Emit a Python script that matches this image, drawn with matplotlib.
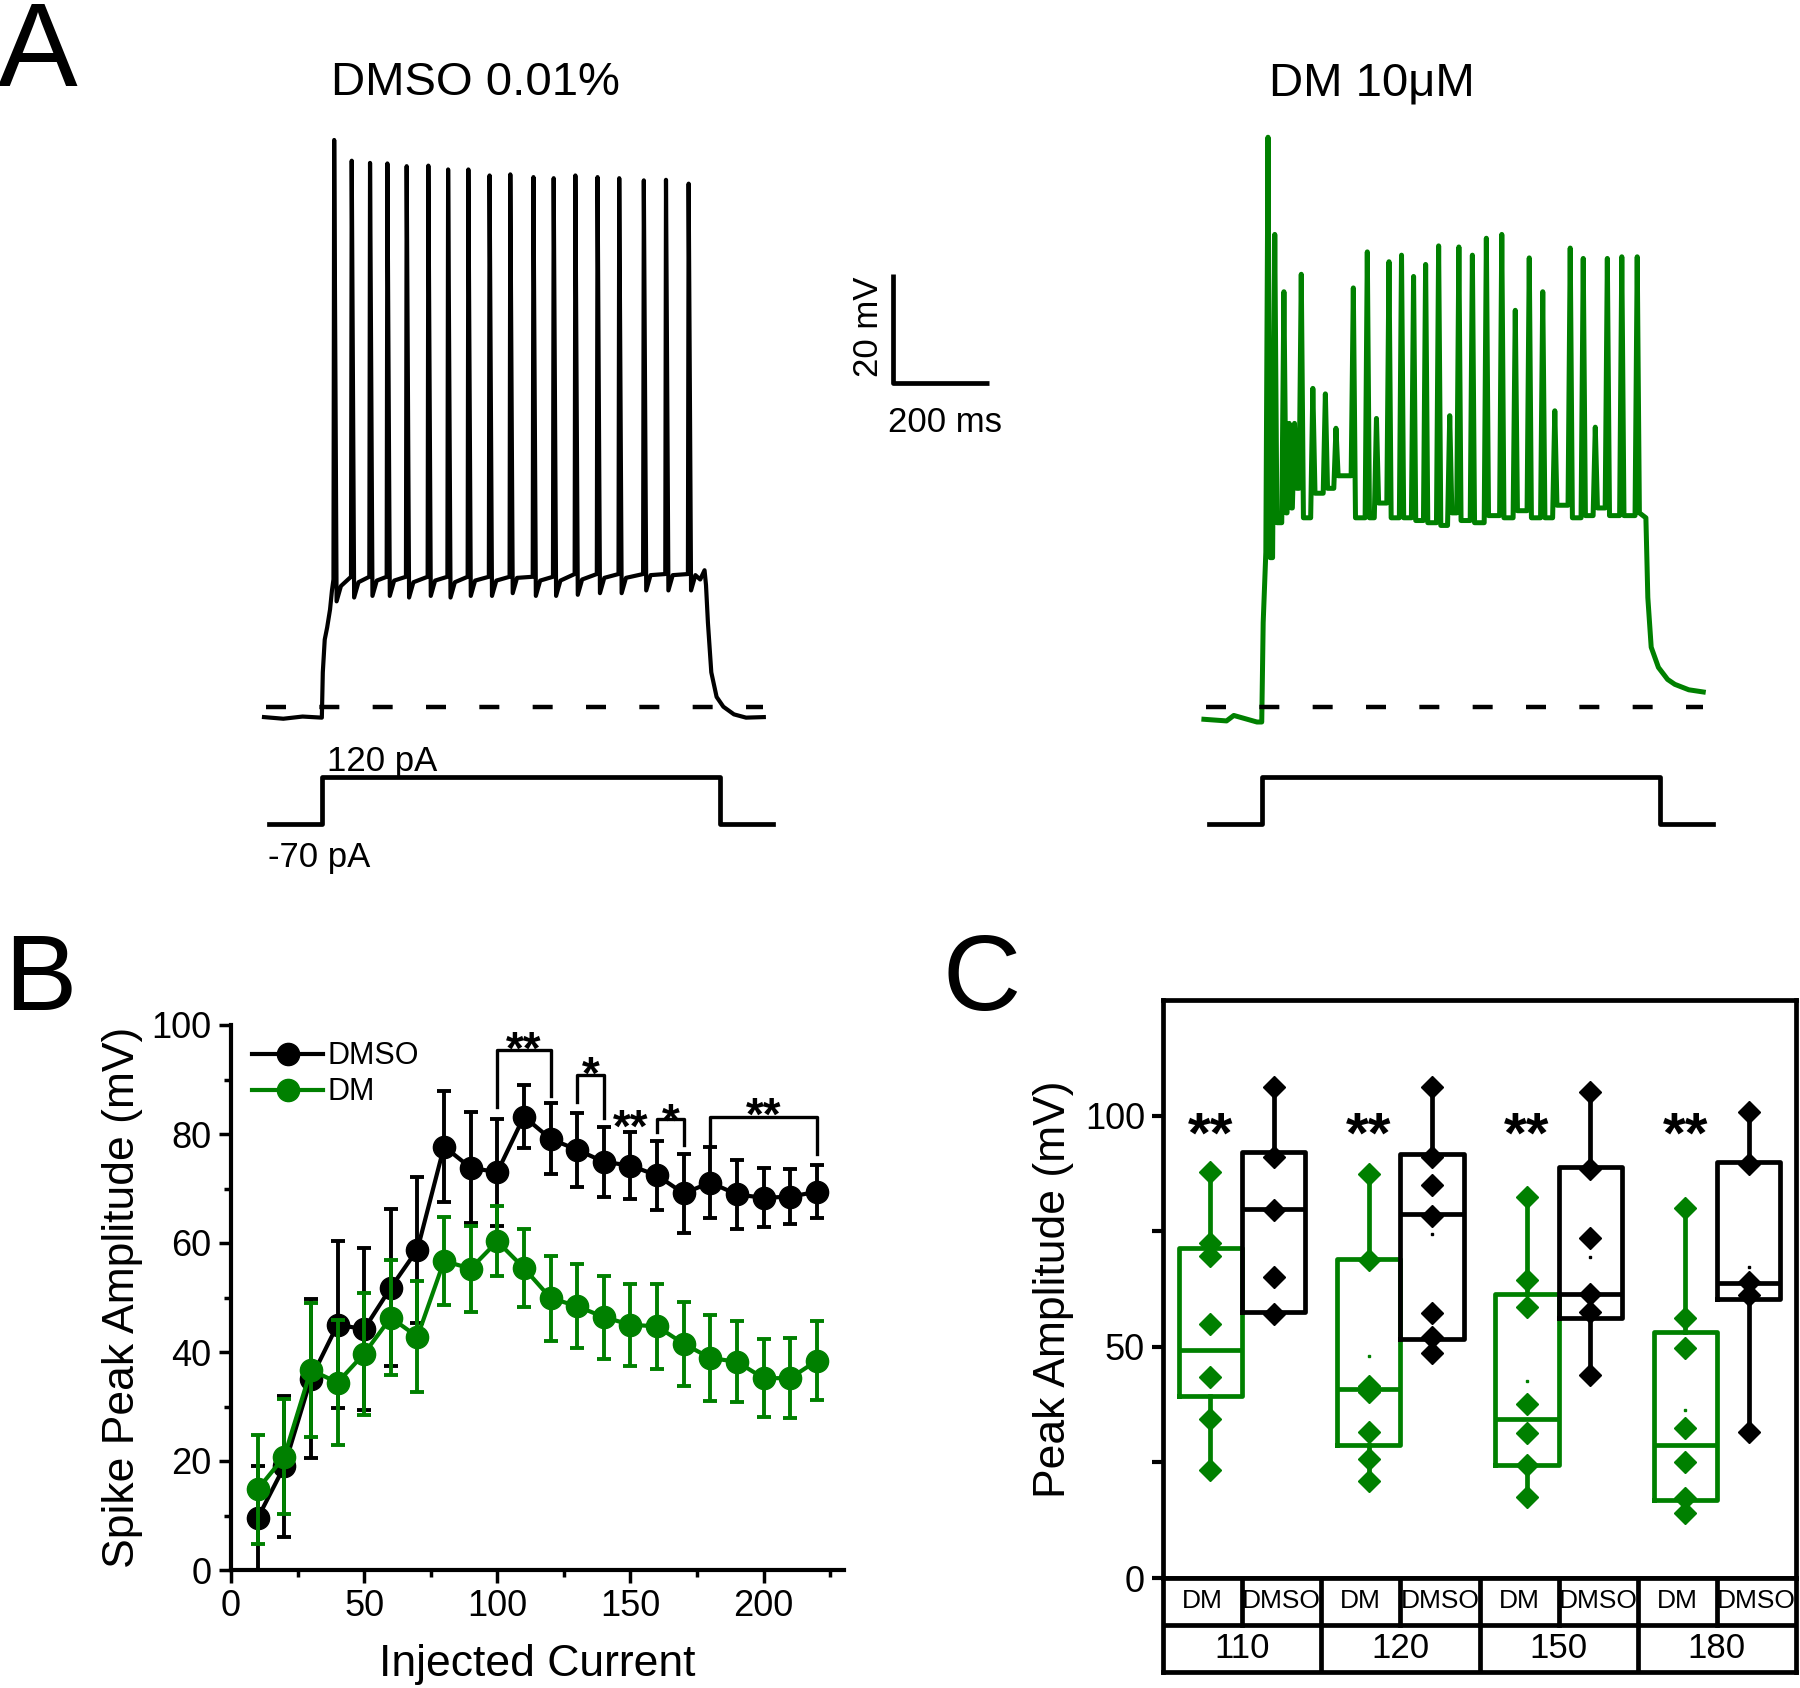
import matplotlib
matplotlib.use("Agg")
import matplotlib.pyplot as plt

plt.rcParams["font.family"] = ["Liberation Sans", "DejaVu Sans"]

GREEN = "#008000"
W, H = 1800, 1688

# ---- Panel A: DMSO trace (ms, mV) ----
dmso_onset_t = [0, 40, 80, 120, 122, 126, 131, 137, 141]
dmso_onset_v = [-70.2, -70.5, -70.1, -70.3, -62.0, -56.0, -53.8, -50.5, -47.0]
dmso_spike_t = [145.6, 182, 220, 256, 296, 341, 382, 424, 468, 511, 559, 601,
                646, 692, 737, 788, 834, 881]
dmso_spike_peak = [35.5, 31.7, 31.3, 31.2, 30.7, 30.8, 30.1, 30.1, 29.0, 29.2,
                   28.7, 28.5, 29.0, 28.7, 28.5, 28.1, 28.2, 27.5]
dmso_threshold = [-45.0, -44.5, -44.5, -44.5, -44.5, -44.5, -44.5, -44.5, -44.5,
                  -44.5, -44.5, -44.5, -44.0, -44.0, -44.0, -44.0, -44.0, -44.0]
dmso_ahp = [-49.0, -48.3, -48.0, -48.0, -48.3, -48.0, -48.3, -48.0, -48.0,
            -47.5, -48.0, -48.0, -47.8, -47.5, -47.5, -47.0, -47.0, -47.0]
dmso_offset_t = [905, 914, 917, 921, 928, 939, 953, 975, 1000, 1037]
dmso_offset_v = [-45.0, -43.3, -46.0, -52.9, -62.0, -66.5, -68.3, -69.7, -70.3, -70.2]

# ---- Panel A: DM trace (ms, mV) ----
dm_onset_t = [0, 47, 62, 110, 120, 123]
dm_onset_v = [-70.6, -70.9, -69.9, -71.1, -71.1, -52.9]
dm_spike_t = [133, 147, 166, 177, 188, 202, 226, 252, 274, 310, 339, 358, 384,
              410, 435, 460, 487, 510, 529, 557, 586, 618, 646, 675, 703, 728,
              760, 787, 812, 837, 867, 899]
dm_spike_peak = [36.0, 18.2, 7.7, -16.4, -16.4, 10.9, -10.0, -11.0, -17.3, 8.4,
                 15.0, -15.5, 13.2, 14.4, 10.5, 12.7, 16.1, -15.0, 15.9, 14.4,
                 17.5, 18.2, 4.3, 13.9, 7.7, -14.1, 15.7, 13.8, -17.1, 13.8,
                 14.1, 14.1]
dm_floor = [-40.0, -41.0, -34.6, -32.8, -31.9, -28.3, -33.7, -29.2, -28.3, -26.0,
            -33.7, -33.7, -31.0, -33.7, -33.7, -34.2, -34.6, -35.1, -32.8, -34.2,
            -34.6, -33.3, -33.7, -32.4, -33.7, -33.7, -31.4, -33.7, -33.3, -31.9,
            -33.3, -33.3, -32.8]
dm_offset_t = [917, 921, 928, 943, 962, 977, 1006, 1036]
dm_offset_v = [-33.7, -48.3, -57.4, -61.1, -63.3, -64.2, -65.2, -65.6]

rest_v = -68.4
step_t = [10, 120, 120, 946, 946, 1056]
step_pA = [-70, -70, 120, 120, -70, -70]

# ---- Panel B ----
current = [10, 20, 30, 40, 50, 60, 70, 80, 90, 100, 110, 120, 130, 140, 150,
           160, 170, 180, 190, 200, 210, 220]
dmso_amp = [9.5, 19.0, 35.1, 45.0, 44.2, 51.8, 58.8, 77.7, 73.8, 73.0, 83.2, 79.1,
            77.1, 74.9, 74.2, 72.4, 69.1, 71.1, 68.9, 68.3, 68.5, 69.4]
dmso_err = [9.5, 12.9, 14.6, 15.3, 14.9, 14.4, 13.4, 10.1, 10.2, 9.8, 5.8, 6.5,
            6.8, 6.4, 6.2, 6.3, 7.2, 6.5, 6.3, 5.4, 5.0, 4.9]
dm_amp = [14.8, 20.8, 36.7, 34.4, 39.7, 46.3, 42.8, 56.7, 55.3, 60.3, 55.4, 49.9,
          48.4, 46.4, 45.0, 44.7, 41.5, 38.9, 38.2, 35.2, 35.2, 38.4]
dm_err = [10.0, 10.6, 12.3, 11.5, 11.2, 10.6, 10.2, 8.0, 7.9, 6.4, 7.1, 7.8,
          7.7, 7.6, 7.5, 7.8, 7.7, 7.8, 7.4, 7.1, 7.3, 7.2]
sig_left = [100, 130, 160, 180]
sig_right = [120, 140, 170, 220]
sig_top = [95.5, 90.8, 82.7, 83.1]
sig_left_end = [84.9, 85.9, 80.4, 77.9]
sig_right_end = [87.0, 83.0, 77.9, 76.4]
sig_label = ["**", "*", "*", "**"]
sig_label_y = [97.8, 93.1, 84.6, 85.7]
extra_sig_x, extra_sig_y = 150, 83.4

# ---- Panel C ----
groups = ["110", "120", "150", "180"]
dm_q1 = [39.3, 28.8, 24.5, 16.8]
dm_med = [49.3, 40.9, 34.4, 28.8]
dm_q3 = [71.3, 68.9, 61.5, 53.1]
dm_lo = [23.4, 21.0, 17.5, 14.0]
dm_hi = [87.9, 87.4, 82.4, 80.1]
dm_mean = [55.1, 48.1, 42.5, 36.4]
dm_points = [[87.9, 72.4, 69.6, 54.9, 43.5, 34.3, 23.4],
             [87.4, 68.7, 41.6, 40.2, 31.6, 25.7, 21.0],
             [82.4, 64.5, 58.7, 37.6, 31.3, 24.5, 17.5],
             [80.1, 56.3, 49.7, 32.4, 25.0, 17.3, 14.0]]
dmso_q1 = [57.5, 51.7, 56.3, 60.3]
dmso_med = [79.9, 78.7, 61.5, 63.7]
dmso_q3 = [92.1, 91.6, 88.8, 89.9]
dmso_lo = [57.0, 48.6, 43.9, 31.6]
dmso_hi = [106.1, 106.1, 105.1, 100.7]
dmso_mean = [79.8, 74.3, 69.4, 67.3]
dmso_points = [[106.1, 91.1, 79.6, 65.1, 57.0],
               [106.1, 91.1, 85.0, 78.3, 57.3, 52.1, 48.6],
               [105.1, 88.5, 73.6, 61.5, 57.5, 43.9],
               [100.7, 89.5, 64.0, 61.2, 31.6]]


def px_axes(fig, x0, y0, x1, y1):
    return fig.add_axes([x0 / W, 1 - y1 / H, (x1 - x0) / W, (y1 - y0) / H])


def ftext(fig, x, y, s, **kw):
    fig.text(x / W, 1 - y / H, s, **kw)


def spike_vertices(times, peaks, before, after, rise, fall, rec_dt=None, rec_dv=0.0):
    """Polyline through each spike: foot, peak, trough (and optional recovery knee)."""
    t, v = [], []
    for ti, pk, b, a in zip(times, peaks, before, after):
        t += [ti - rise, ti, ti + fall]
        v += [b, pk, a]
        if rec_dt is not None:
            t.append(ti + rec_dt)
            v.append(a + rec_dv)
    return t, v


def star(ax, x, y, s, size, weight="normal"):
    # y is the centre of the asterisk glyph
    ax.annotate(s, xy=(x, y), xytext=(0, -0.58 * size), textcoords="offset points",
                ha="center", va="baseline", fontsize=size, fontweight=weight)


fig = plt.figure(figsize=(18, 16.88), dpi=100)

# ================= Panel A =================
ax_v = px_axes(fig, 0, 100, 1800, 780)
ax_v.set_xlim((0 - 264) / 0.482, (1800 - 264) / 0.482)
ax_v.set_ylim(-70 - 64 / 5.46, -70 + 616 / 5.46)
ax_v.axis("off")
ax_i = px_axes(fig, 0, 740, 1800, 880)
ax_i.set_xlim(ax_v.get_xlim())
ax_i.set_ylim(-70 - 56 * 4.04, 120 + 37 * 4.04)
ax_i.axis("off")

dm_shift = 1950  # horizontal place of the DM trace

st, sv = spike_vertices(dmso_spike_t, dmso_spike_peak, dmso_threshold, dmso_ahp,
                        1.5, 5, rec_dt=14, rec_dv=2.8)
ax_v.plot(dmso_onset_t + st + dmso_offset_t, dmso_onset_v + sv + dmso_offset_v,
          color="black", lw=3, solid_joinstyle="round")
st, sv = spike_vertices(dm_spike_t, dm_spike_peak, dm_floor[:-1], dm_floor[1:], 4.5, 4.5)
dm_t = dm_onset_t + st + dm_offset_t
ax_v.plot([t + dm_shift for t in dm_t], dm_onset_v + sv + dm_offset_v,
          color=GREEN, lw=3.6, solid_joinstyle="round")

for shift in (0, dm_shift):
    ax_v.plot([shift + 4, shift + 1035], [rest_v, rest_v], color="black", lw=3.2,
              dashes=(4.5, 7.5))
    ax_i.plot([t + shift for t in step_t], step_pA, color="black", lw=3.4)

# scale bar
sb_t, sb_v = 1305, -9.1
ax_v.plot([sb_t, sb_t, sb_t + 200], [sb_v + 20, sb_v, sb_v], color="black", lw=3.4,
          solid_capstyle="butt")
ftext(fig, 868, 327, "20 mV", rotation=90, ha="center", va="center", fontsize=25)
ftext(fig, 945, 422, "200 ms", ha="center", va="center", fontsize=25)
ftext(fig, 327, 771, "120 pA", ha="left", va="baseline", fontsize=25)
ftext(fig, 268, 867, "-70 pA", ha="left", va="baseline", fontsize=25)

ftext(fig, 475, 95, "DMSO 0.01%", ha="center", va="baseline", fontsize=34)
ftext(fig, 1372, 95, "DM 10μM", ha="center", va="baseline", fontsize=34)

ftext(fig, -2, 86, "A", ha="left", va="baseline", fontsize=86)
ftext(fig, 4, 1010, "B", ha="left", va="baseline", fontsize=78)
ftext(fig, 942, 1010, "C", ha="left", va="baseline", fontsize=78)

# ================= Panel B =================
ax_b = px_axes(fig, 231, 1025, 843.5, 1570)
ax_b.errorbar(current, dmso_amp, yerr=dmso_err, fmt="none", ecolor="black",
              elinewidth=2.8, capsize=5, capthick=2.8)
hb, = ax_b.plot(current, dmso_amp, "-o", color="black", lw=3, ms=16, label="DMSO")
ax_b.errorbar(current, dm_amp, yerr=dm_err, fmt="none", ecolor=GREEN,
              elinewidth=2.8, capsize=5, capthick=2.8)
hg, = ax_b.plot(current, dm_amp, "-o", color=GREEN, lw=3, ms=16, label="DM")

for xl, xr, top, le, re in zip(sig_left, sig_right, sig_top, sig_left_end, sig_right_end):
    ax_b.plot([xl, xl, xr, xr], [le, top, top, re], color="black", lw=2.4)
for xl, xr, s, y in zip(sig_left, sig_right, sig_label, sig_label_y):
    star(ax_b, (xl + xr) / 2, y, s, 33, weight="bold")
star(ax_b, extra_sig_x, extra_sig_y, "**", 33, weight="bold")

ax_b.set_xlim(0, 230)
ax_b.set_ylim(0, 100)
ax_b.set_xticks([0, 50, 100, 150, 200])
ax_b.set_xticks([25, 75, 125, 175, 225], minor=True)
ax_b.set_yticks([0, 20, 40, 60, 80, 100])
ax_b.set_yticks([10, 30, 50, 70, 90], minor=True)
for side in ("top", "right"):
    ax_b.spines[side].set_visible(False)
for side in ("left", "bottom"):
    ax_b.spines[side].set_linewidth(3)
ax_b.tick_params(which="major", direction="out", length=9, width=2.5, labelsize=26, pad=5)
ax_b.tick_params(which="minor", direction="out", length=5, width=2.5)
ax_b.set_xlabel("Injected Current", fontsize=32, labelpad=14)
ax_b.set_ylabel("Spike Peak Amplitude (mV)", fontsize=32, labelpad=6)
ax_b.legend(handles=[hb, hg], loc="upper left", bbox_to_anchor=(0.035, 0.97),
            frameon=False, fontsize=22, handlelength=2.3, handletextpad=0.15,
            labelspacing=0.2, borderpad=0, borderaxespad=0)

# ================= Panel C =================
ax_c = px_axes(fig, 1163, 1000, 1796, 1578)
dm_pos = [0.6, 2.6, 4.6, 6.6]
dmso_pos = [1.4, 3.4, 5.4, 7.4]
for pos, q1, med, q3, lo, hi, mean, pts, col in (
        (dm_pos, dm_q1, dm_med, dm_q3, dm_lo, dm_hi, dm_mean, dm_points, GREEN),
        (dmso_pos, dmso_q1, dmso_med, dmso_q3, dmso_lo, dmso_hi, dmso_mean,
         dmso_points, "black")):
    stats = [dict(med=m, q1=a, q3=b, whislo=l, whishi=h, fliers=[])
             for a, m, b, l, h in zip(q1, med, q3, lo, hi)]
    lp = dict(color=col, linewidth=3.4)
    ax_c.bxp(stats, positions=pos, widths=0.8, showcaps=False, showfliers=False,
             boxprops=lp, whiskerprops=lp, medianprops=lp)
    for p, vals, mu in zip(pos, pts, mean):
        ax_c.plot([p] * len(vals), vals, "D", color=col, ms=11.5, zorder=4)
        ax_c.plot([p], [mu], "s", color=col, ms=2.0, zorder=4)
for p in dm_pos:
    star(ax_c, p, 99.3, "**", 42, weight="bold")

ax_c.set_xlim(0, 8)
ax_c.set_ylim(0, 125)
ax_c.set_xticks([])
ax_c.set_yticks([0, 50, 100])
ax_c.set_yticks([25, 75], minor=True)
for sp in ax_c.spines.values():
    sp.set_linewidth(3.4)
ax_c.tick_params(which="both", direction="out", length=8, width=3)
ax_c.tick_params(which="major", labelsize=26, pad=5)
ax_c.set_ylabel("Peak Amplitude (mV)", fontsize=32, labelpad=8)

ax_t = px_axes(fig, 1163, 1578, 1796, 1672)
ax_t.set_xlim(0, 8)
ax_t.set_ylim(0, 2)
ax_t.set_xticks([])
ax_t.set_yticks([])
for sp in ax_t.spines.values():
    sp.set_linewidth(3.4)
ax_t.axhline(1, color="black", lw=3.4)
for k in range(1, 8):
    ax_t.plot([k, k], [1, 2], color="black", lw=3.4)
for k in (2, 4, 6):
    ax_t.plot([k, k], [0, 1], color="black", lw=3.4)
for i, g in enumerate(groups):
    ax_t.text(2 * i + 0.5, 1.5, "DM", ha="center", va="center", fontsize=19)
    ax_t.text(2 * i + 1.5, 1.5, "DMSO", ha="center", va="center", fontsize=19)
    ax_t.text(2 * i + 1, 0.5, g, ha="center", va="center", fontsize=25)

fig.savefig("out.png", dpi=100)
